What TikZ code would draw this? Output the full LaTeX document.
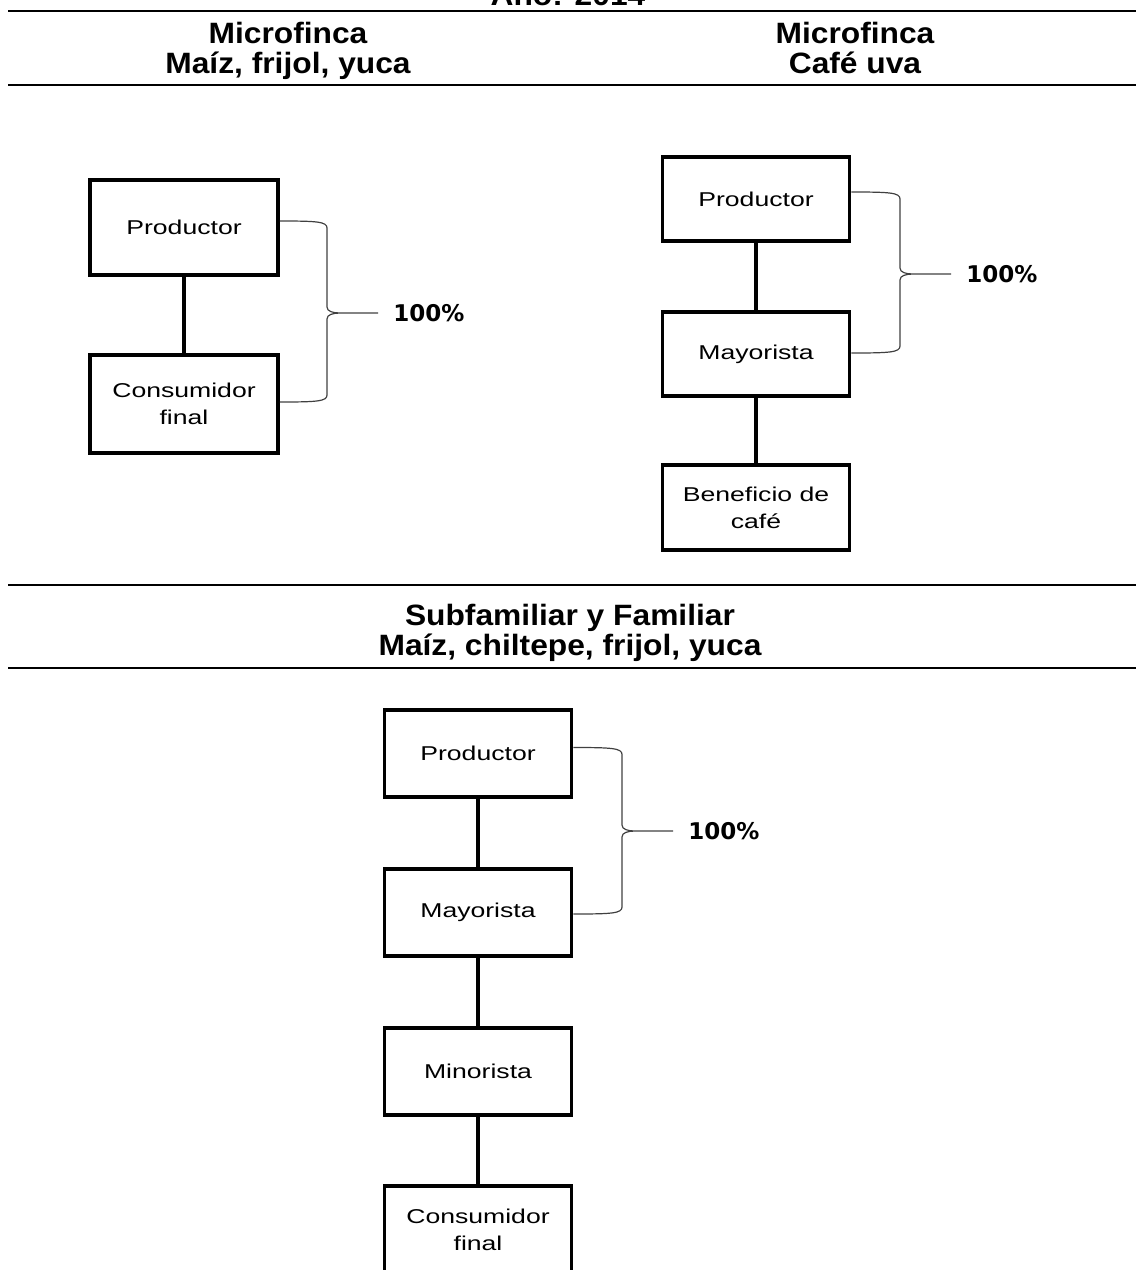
\documentclass[tikz,border=0pt]{standalone}
\usepackage{fontspec}
\usetikzlibrary{calc}
\newfontfamily\headfont[FakeStretch=1.08]{Liberation Sans Bold}
\newfontfamily\boxfont[FakeStretch=1.33]{Liberation Sans}
\newfontfamily\pctfont{DejaVu Sans Bold}
\tikzset{
  rule/.style={line width=0.65pt},
  head/.style={font={\headfont\fontsize{14.7}{15}\selectfont}, inner sep=0pt, anchor=base},
  box/.style={draw, line width=1.75pt, align=center, inner sep=0pt, minimum width=93.5pt,
    font={\boxfont\fontsize{10}{13.5}\selectfont}},
  link/.style={line width=2pt},
  bracestyle/.style={line width=0.6pt, draw=black!75, shorten >=7.5pt},
  pct/.style={font={\pctfont\fontsize{11.5}{12}\selectfont}, inner sep=0pt, anchor=west}
}
% top arm, bottom arm, cusp, label
\newcommand{\pctbrace}[4]{%
  \draw[bracestyle] let \p1=(#1), \p2=(#2), \p3=(#3), \n1={\x3-6.5pt} in
    (\p1) .. controls (\n1-5pt,\y1) and (\n1,\y1-0.3pt) .. (\n1,\y1-3.5pt)
    -- (\n1,\y3+3pt) .. controls (\n1,\y3+0.8pt) and (\n1+3pt,\y3) .. (\p3)
    .. controls (\n1+3pt,\y3) and (\n1,\y3-0.8pt) .. (\n1,\y3-3pt)
    -- (\n1,\y2+3.5pt) .. controls (\n1,\y2+0.3pt) and (\n1-5pt,\y2) .. (\p2)
    (\p3) -- (#4);
}

\begin{document}
\begin{tikzpicture}[x=0.5pt, y=-0.5pt]
  \useasboundingbox (0,0) rectangle (1136,1270);
  \clip (0,0) rectangle (1136,1270);

  %%%%% HEADINGS %%%%%
  \node[head] (year) at (568,5) {Año: 2014};
  \draw[rule] (8,11) -- (1136,11);
  \node[head] (hdA1) at (288,43) {Microfinca};
  \node[head] (hdA2) at (288,73) {Maíz, frijol, yuca};
  \node[head] (hdB1) at (855,43) {Microfinca};
  \node[head] (hdB2) at (855,73) {Café uva};
  \draw[rule] (8,85) -- (1136,85);

  \draw[rule] (8,585) -- (1136,585);
  \node[head] (hdC1) at (570,625) {Subfamiliar y Familiar};
  \node[head] (hdC2) at (570,655) {Maíz, chiltepe, frijol, yuca};
  \draw[rule] (8,668) -- (1136,668);

  %%%%% MICROFINCA: MAIZ %%%%%
  \node[box, minimum width=94pt, minimum height=47.5pt] (prodA) at (184,227.5) {Productor};
  \node[box, minimum width=94pt, minimum height=49pt] (consA) at (184,404) {Consumidor\\final};
  \draw[link] (prodA) -- (consA);

  \coordinate (cuspA) at (340,313);
  \node[pct] (pctA) at (393,313) {100\%};
  \pctbrace{$(prodA.east)+(0,-6.5)$}{$(consA.east)+(0,-2)$}{cuspA}{pctA.west}

  %%%%% MICROFINCA: CAFE %%%%%
  \node[box, minimum height=42pt] (prodB) at (756,199) {Productor};
  \node[box, minimum height=42pt] (mayB) at (756,354) {Mayorista};
  \node[box, minimum height=42.5pt] (benB) at (756,507.5) {Beneficio de\\café};
  \draw[link] (prodB) -- (mayB);
  \draw[link] (mayB) -- (benB);

  \coordinate (cuspB) at (913,274);
  \node[pct] (pctB) at (966,274) {100\%};
  \pctbrace{$(prodB.east)+(0,-7)$}{$(mayB.east)+(0,-1)$}{cuspB}{pctB.west}

  %%%%% SUBFAMILIAR Y FAMILIAR %%%%%
  \node[box, minimum height=43.5pt] (prodC) at (478,753.5) {Productor};
  \node[box, minimum height=43.5pt] (mayC) at (478,912.5) {Mayorista};
  \node[box, minimum height=43.5pt] (minC) at (478,1071.5) {Minorista};
  \node[box, minimum height=43.5pt] (consC) at (478,1229.5) {Consumidor\\final};
  \draw[link] (prodC) -- (mayC);
  \draw[link] (mayC) -- (minC);
  \draw[link] (minC) -- (consC);

  \coordinate (cuspC) at (635,831);
  \node[pct] (pctC) at (688,831) {100\%};
  \pctbrace{$(prodC.east)+(0,-6)$}{$(mayC.east)+(0,1.5)$}{cuspC}{pctC.west}
\end{tikzpicture}
\end{document}
